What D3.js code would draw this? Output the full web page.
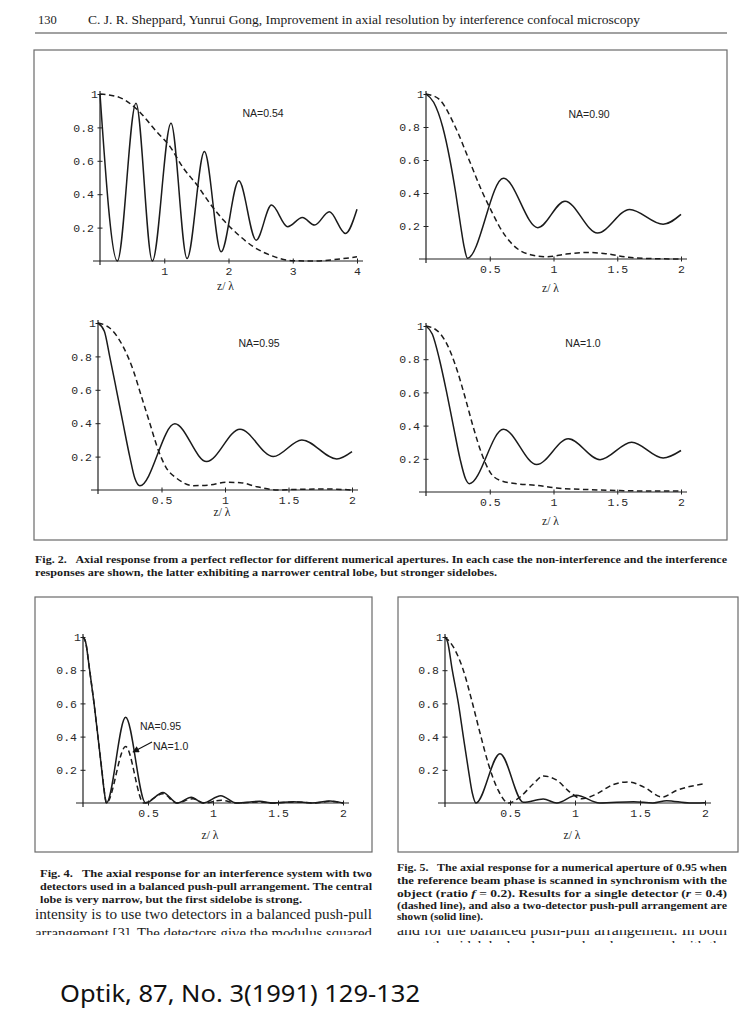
<!DOCTYPE html>
<html><head><meta charset="utf-8">
<script src="https://cdn.jsdelivr.net/npm/d3@7"></script>
<style>body{margin:0;background:#fff}svg{display:block}</style></head>
<body><svg id="c" width="749" height="1024"></svg>
<script>
// ---------------- DATA ----------------
const yTickValues = [0.2, 0.4, 0.6, 0.8, 1];
const yTickLabels = ["0.2", "0.4", "0.6", "0.8", "1"];
const xTicksWide = [1, 2, 3, 4];
const xTickLabelsWide = ["1", "2", "3", "4"];
const xTicksNarrow = [0.5, 1, 1.5, 2];
const xTickLabelsNarrow = ["0.5", "1", "1.5", "2"];

// Fig. 2, NA = 0.54  ([z/lambda, response])
const na054Interference = [[0,1],[0.27,0],[0.56,0.945],[0.815,0],[1.105,0.825],[1.355,0.015],[1.625,0.655],[1.885,0.055],[2.16,0.48],[2.43,0.125],[2.67,0.335],[2.92,0.205],[3.15,0.26],[3.34,0.215],[3.57,0.295],[3.82,0.165],[4.0,0.31]];
const na054Conventional = [[0,1],[0.3,0.98],[0.57,0.91],[0.88,0.775],[1.09,0.685],[1.3,0.555],[1.51,0.455],[1.71,0.345],[1.92,0.245],[2.13,0.165],[2.39,0.085],[2.65,0.035],[3.0,0.002],[3.35,0],[3.69,0.01],[4.0,0.025]];
// Fig. 2, NA = 0.90
const na090Interference = [[0,1],[0.06,0.95],[0.131,0.8],[0.188,0.6],[0.233,0.4],[0.272,0.2],[0.3,0.07],[0.325,0.005],[0.607,0.49],[0.877,0.19],[1.09,0.35],[1.345,0.157],[1.597,0.3],[1.86,0.21],[2.0,0.27]];
const na090Conventional = [[0,1],[0.1,0.97],[0.23,0.8],[0.338,0.6],[0.445,0.4],[0.52,0.28],[0.573,0.2],[0.68,0.087],[0.82,0.026],[0.95,0.014],[1.1,0.03],[1.26,0.04],[1.41,0.032],[1.59,0.01],[1.8,0.002],[2.0,0]];
// Fig. 2, NA = 0.95
const na095Interference = [[0,1],[0.05,0.95],[0.092,0.8],[0.145,0.6],[0.197,0.4],[0.25,0.2],[0.29,0.07],[0.33,0.025],[0.605,0.396],[0.855,0.17],[1.118,0.364],[1.38,0.2],[1.605,0.3],[1.88,0.186],[2.0,0.23]];
const na095Conventional = [[0,1],[0.092,0.97],[0.197,0.86],[0.276,0.72],[0.342,0.56],[0.408,0.4],[0.474,0.24],[0.54,0.13],[0.62,0.07],[0.75,0.026],[0.88,0.03],[1.01,0.046],[1.12,0.044],[1.25,0.02],[1.41,0],[1.59,0.004],[1.8,0.006],[2.0,0]];
// Fig. 2, NA = 1.0
const na100Interference = [[0,1],[0.05,0.95],[0.105,0.8],[0.162,0.6],[0.214,0.4],[0.267,0.2],[0.31,0.08],[0.34,0.05],[0.607,0.378],[0.868,0.165],[1.116,0.321],[1.365,0.195],[1.613,0.3],[1.86,0.205],[2.0,0.25]];
const na100Conventional = [[0,1],[0.084,0.974],[0.162,0.894],[0.24,0.743],[0.306,0.572],[0.371,0.39],[0.437,0.23],[0.502,0.12],[0.58,0.07],[0.71,0.05],[0.868,0.04],[1.025,0.024],[1.286,0.014],[1.55,0.008],[1.81,0.006],[2.0,0.006]];
// Fig. 4, push-pull
const pushPullNA095 = [[0,1],[0.02,0.97],[0.051,0.8],[0.085,0.6],[0.115,0.4],[0.144,0.2],[0.165,0.06],[0.18,0],[0.328,0.516],[0.482,0],[0.615,0.064],[0.726,0],[0.833,0.034],[0.923,0],[1.06,0.044],[1.18,0],[1.36,0.01],[1.46,0],[1.62,0.008],[1.76,0],[1.9,0.012],[2.0,0]];
const pushPullNA100 = [[0,1],[0.02,0.97],[0.051,0.8],[0.085,0.6],[0.115,0.4],[0.145,0.2],[0.166,0.06],[0.18,0],[0.328,0.34],[0.467,0],[0.615,0.056],[0.72,0],[0.846,0.026],[0.93,0],[1.064,0.016],[1.18,0],[1.36,0.006],[1.46,0],[1.64,0.006],[1.79,0],[1.9,0.01],[2.0,0]];
// Fig. 5, scanned reference phase
const scannedPushPull = [[0,1],[0.02,0.97],[0.056,0.8],[0.103,0.6],[0.141,0.4],[0.18,0.2],[0.21,0.06],[0.238,0],[0.423,0.297],[0.603,0.004],[0.756,0.024],[0.86,0],[1.01,0.046],[1.19,0],[1.45,0.008],[1.6,0],[1.705,0.014],[1.88,0],[2.0,0.002]];
const scannedSingle = [[0,1],[0.064,0.94],[0.141,0.8],[0.205,0.62],[0.27,0.42],[0.333,0.237],[0.41,0.076],[0.487,0],[0.577,0.036],[0.68,0.116],[0.756,0.163],[0.86,0.137],[0.96,0.066],[1.05,0.026],[1.17,0.056],[1.29,0.11],[1.41,0.127],[1.53,0.096],[1.67,0.036],[1.78,0.075],[2.0,0.117]];

// ---------------- LAYOUT ----------------
const svg = d3.select("#c");
const INK = "#1b1b1b";
const serif = "'Liberation Serif','Times New Roman',serif";
const mono = "'Liberation Mono','DejaVu Sans Mono',monospace";
const sans = "'Liberation Sans',Arial,sans-serif";

const panels = [
  {series:[[na054Interference,false],[na054Conventional,true]], xmax:4, xt:xTicksWide, xl:xTickLabelsWide,
   x0:100, x1:357, y0:261, y1:94, label:"NA=0.54", lx:263, ly:117, ty:290},
  {series:[[na090Interference,false],[na090Conventional,true]], xmax:2, xt:xTicksNarrow, xl:xTickLabelsNarrow,
   x0:426, x1:681, y0:259, y1:94, label:"NA=0.90", lx:589, ly:118, ty:292},
  {series:[[na095Interference,false],[na095Conventional,true]], xmax:2, xt:xTicksNarrow, xl:xTickLabelsNarrow,
   x0:98, x1:352, y0:490, y1:323, label:"NA=0.95", lx:259, ly:347, ty:516},
  {series:[[na100Interference,false],[na100Conventional,true]], xmax:2, xt:xTicksNarrow, xl:xTickLabelsNarrow,
   x0:426, x1:681, y0:492, y1:326, label:"NA=1.0", lx:583, ly:347, ty:525},
  {series:[[pushPullNA095,false],[pushPullNA100,true]], xmax:2, xt:xTicksNarrow, xl:xTickLabelsNarrow,
   x0:83, x1:343, y0:803, y1:637, label:null, ty:839},
  {series:[[scannedPushPull,false],[scannedSingle,true]], xmax:2, xt:xTicksNarrow, xl:xTickLabelsNarrow,
   x0:445, x1:705, y0:803, y1:637, label:null, ty:839}
];

// header
svg.append("text").attr("x",38).attr("y",24).attr("font-family",serif).attr("font-size",12.5).attr("fill",INK).text("130");
svg.append("text").attr("x",88).attr("y",24).attr("font-family",serif).attr("font-size",12).attr("fill",INK)
  .attr("textLength",552).attr("lengthAdjust","spacingAndGlyphs")
  .text("C. J. R. Sheppard, Yunrui Gong, Improvement in axial resolution by interference confocal microscopy");
svg.append("line").attr("x1",35).attr("x2",727).attr("y1",33).attr("y2",33).attr("stroke","#444").attr("stroke-width",1.2);

// figure frames
[[34,50,693,490],[35,597,337,255],[398,597,340,255]].forEach(b=>{
  svg.append("rect").attr("x",b[0]).attr("y",b[1]).attr("width",b[2]).attr("height",b[3])
    .attr("fill","none").attr("stroke","#6a6a6a").attr("stroke-width",1.2);
});

// panels
panels.forEach(p=>{
  const g = svg.append("g");
  const x = d3.scaleLinear().domain([0,p.xmax]).range([p.x0,p.x1]);
  const y = d3.scaleLinear().domain([0,1]).range([p.y0,p.y1]);
  g.append("line").attr("x1",p.x0-7).attr("x2",p.x1+6).attr("y1",p.y0).attr("y2",p.y0).attr("stroke","#222").attr("stroke-width",1.2);
  g.append("line").attr("x1",p.x0).attr("x2",p.x0).attr("y1",p.y1-3).attr("y2",p.y0+4).attr("stroke","#222").attr("stroke-width",1.2);
  const xa = g.append("g").attr("transform",`translate(0,${p.y0})`)
    .call(d3.axisBottom(x).tickValues(p.xt).tickFormat((d,i)=>p.xl[i]).tickSize(0).tickPadding(6));
  xa.select(".domain").remove();
  xa.selectAll(".tick line").attr("y1",-2.5).attr("y2",2.5).attr("stroke","#222");
  xa.selectAll("text").attr("font-family",mono).attr("font-size",11.5).attr("fill","#2a2a2a");
  const ya = g.append("g").attr("transform",`translate(${p.x0},0)`)
    .call(d3.axisLeft(y).tickValues(yTickValues).tickFormat((d,i)=>yTickLabels[i]).tickSize(0).tickPadding(6));
  ya.select(".domain").remove();
  ya.selectAll(".tick line").attr("x1",-2.5).attr("x2",2.5).attr("stroke","#222");
  ya.selectAll("text").attr("font-family",mono).attr("font-size",11.5).attr("fill","#2a2a2a");
  ya.selectAll(".tick").filter(d=>d===1).select("text").attr("x",-2);
  const line = d3.line().x(d=>x(d[0])).y(d=>y(d[1])).curve(d3.curveMonotoneX);
  p.series.forEach(([data,dashed])=>{
    g.append("path").attr("d",line(data)).attr("fill","none").attr("stroke",INK)
      .attr("stroke-width",1.5).attr("stroke-dasharray",dashed?"5.5,3.5":null);
  });
  if (p.label) g.append("text").attr("x",p.lx).attr("y",p.ly).attr("text-anchor","middle")
    .attr("font-family",sans).attr("font-size",10.5).attr("fill","#222").text(p.label);
  g.append("text").attr("x",(p.x0+p.x1)/2-3).attr("y",p.ty).attr("text-anchor","middle")
    .attr("font-family",serif).attr("font-size",11.5).attr("fill","#222").text("z/ \u03bb");
});

// Fig. 4 annotations
svg.append("text").attr("x",140).attr("y",730).attr("font-family",sans).attr("font-size",10.5).attr("fill","#222").text("NA=0.95");
svg.append("text").attr("x",153).attr("y",750).attr("font-family",sans).attr("font-size",10.5).attr("fill","#222").text("NA=1.0");
svg.append("defs").append("marker").attr("id","ah").attr("viewBox","0 0 10 10").attr("refX",9).attr("refY",5)
  .attr("markerWidth",7).attr("markerHeight",6).attr("orient","auto")
  .append("path").attr("d","M0,0L10,5L0,10z").attr("fill","#111");
svg.append("line").attr("x1",152).attr("y1",742).attr("x2",133).attr("y2",752)
  .attr("stroke","#111").attr("stroke-width",1.1).attr("marker-end","url(#ah)");

// captions
function capLine(x, y, len, parts){
  const t = svg.append("text").attr("x",x).attr("y",y).attr("font-family",serif)
    .attr("font-size",11).attr("font-weight","bold").attr("fill",INK)
    .attr("textLength",len).attr("lengthAdjust","spacingAndGlyphs");
  parts.forEach(pt=>{
    const s = t.append("tspan").text(pt.t);
    if (pt.it) s.attr("font-style","italic");
    if (pt.dx) s.attr("dx",pt.dx);
  });
}
capLine(35,563,692,[{t:"Fig. 2."},{t:"Axial response from a perfect reflector for different numerical apertures. In each case the non-interference and the interference",dx:8}]);
capLine(35,576,462,[{t:"responses are shown, the latter exhibiting a narrower central lobe, but stronger sidelobes."}]);

capLine(40,877,332,[{t:"Fig. 4."},{t:"The axial response for an interference system with two",dx:8}]);
capLine(40,890,332,[{t:"detectors used in a balanced push-pull arrangement. The central"}]);
capLine(40,903,262,[{t:"lobe is very narrow, but the first sidelobe is strong."}]);

capLine(397,871,330,[{t:"Fig. 5."},{t:"The axial response for a numerical aperture of 0.95 when",dx:8}]);
capLine(397,884,330,[{t:"the reference beam phase is scanned in synchronism with the"}]);
capLine(397,897,330,[{t:"object (ratio "},{t:"f",it:true},{t:" = 0.2). Results for a single detector ("},{t:"r",it:true},{t:" = 0.4)"}]);
capLine(397,909,330,[{t:"(dashed line), and also a two-detector push-pull arrangement are"}]);
capLine(397,920,86,[{t:"shown (solid line)."}]);

// body text (cut off by the scan edge / partly covered by the caption)
const defs = svg.select("defs");
defs.append("clipPath").attr("id","clipL").append("rect").attr("x",0).attr("y",0).attr("width",390).attr("height",935);
defs.append("clipPath").attr("id","clipR").append("rect").attr("x",390).attr("y",930).attr("width",360).attr("height",13);
function bodyLine(x,y,len,txt,clip){
  svg.append("text").attr("x",x).attr("y",y).attr("font-family",serif).attr("font-size",14).attr("fill",INK)
    .attr("textLength",len).attr("lengthAdjust","spacingAndGlyphs").attr("clip-path",`url(#${clip})`).text(txt);
}
bodyLine(35,919,337,"intensity is to use two detectors in a balanced push-pull","clipL");
bodyLine(35,938,337,"arrangement [3]. The detectors give the modulus squared","clipL");
bodyLine(397,935,330,"and for the balanced push-pull arrangement. In both","clipR");
bodyLine(397,951,330,"cases the sidelobe levels are reduced compared with the","clipR");

// footer
svg.append("text").attr("x",60).attr("y",1002).attr("font-family","'Noto Sans','Open Sans',sans-serif")
  .attr("font-size",23).attr("fill","#111").attr("textLength",360).attr("lengthAdjust","spacingAndGlyphs")
  .text("Optik, 87, No. 3(1991) 129-132");
</script></body></html>
